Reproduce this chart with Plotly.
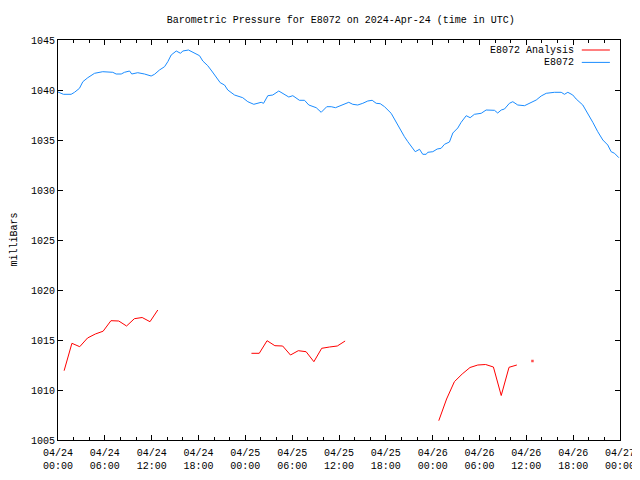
import plotly.graph_objects as go

# ---- data ----
blue_times = [
    "2024-04-24 00:00", "2024-04-24 00:42", "2024-04-24 01:41", "2024-04-24 02:07", "2024-04-24 02:45",
    "2024-04-24 03:11", "2024-04-24 03:49", "2024-04-24 04:41", "2024-04-24 05:44", "2024-04-24 07:01",
    "2024-04-24 07:27", "2024-04-24 08:06", "2024-04-24 08:31", "2024-04-24 09:10", "2024-04-24 09:27",
    "2024-04-24 10:13", "2024-04-24 11:05", "2024-04-24 11:56", "2024-04-24 12:22", "2024-04-24 13:00",
    "2024-04-24 13:39", "2024-04-24 14:04", "2024-04-24 14:30", "2024-04-24 15:09", "2024-04-24 15:42",
    "2024-04-24 15:59", "2024-04-24 16:43", "2024-04-24 17:29", "2024-04-24 18:08", "2024-04-24 18:33",
    "2024-04-24 19:11", "2024-04-24 19:42", "2024-04-24 20:16", "2024-04-24 20:47", "2024-04-24 21:20",
    "2024-04-24 21:45", "2024-04-24 22:37", "2024-04-24 23:15", "2024-04-24 23:40", "2024-04-25 00:19",
    "2024-04-25 01:05", "2024-04-25 02:02", "2024-04-25 02:20", "2024-04-25 02:53", "2024-04-25 03:31",
    "2024-04-25 04:17", "2024-04-25 04:48", "2024-04-25 05:34", "2024-04-25 06:05", "2024-04-25 06:56",
    "2024-04-25 07:35", "2024-04-25 08:08", "2024-04-25 09:05", "2024-04-25 09:43", "2024-04-25 10:26",
    "2024-04-25 11:00", "2024-04-25 11:33", "2024-04-25 12:29", "2024-04-25 13:15", "2024-04-25 13:46",
    "2024-04-25 14:24", "2024-04-25 15:03", "2024-04-25 15:41", "2024-04-25 16:15", "2024-04-25 16:46",
    "2024-04-25 17:17", "2024-04-25 17:50", "2024-04-25 18:41", "2024-04-25 19:06", "2024-04-25 19:32",
    "2024-04-25 19:58", "2024-04-25 20:23", "2024-04-25 20:49", "2024-04-25 21:15", "2024-04-25 21:46",
    "2024-04-25 22:19", "2024-04-25 22:44", "2024-04-25 23:10", "2024-04-25 23:22", "2024-04-26 00:01",
    "2024-04-26 00:35", "2024-04-26 01:05", "2024-04-26 01:31", "2024-04-26 02:09", "2024-04-26 02:35",
    "2024-04-26 03:13", "2024-04-26 03:39", "2024-04-26 04:18", "2024-04-26 04:48", "2024-04-26 05:21",
    "2024-04-26 06:13", "2024-04-26 06:51", "2024-04-26 07:55", "2024-04-26 08:20", "2024-04-26 08:47",
    "2024-04-26 09:12", "2024-04-26 09:50", "2024-04-26 10:16", "2024-04-26 10:54", "2024-04-26 11:46",
    "2024-04-26 12:24", "2024-04-26 13:16", "2024-04-26 13:54", "2024-04-26 14:33", "2024-04-26 15:36",
    "2024-04-26 16:28", "2024-04-26 16:53", "2024-04-26 17:19", "2024-04-26 17:57", "2024-04-26 18:23",
    "2024-04-26 19:14", "2024-04-26 19:52", "2024-04-26 20:31", "2024-04-26 21:09", "2024-04-26 21:48",
    "2024-04-26 22:26", "2024-04-26 22:52", "2024-04-26 23:18", "2024-04-26 23:51",
]
blue_values = [
    1039.8, 1039.57, 1039.57, 1039.77, 1040.17,
    1040.83, 1041.23, 1041.67, 1041.83, 1041.77,
    1041.6, 1041.6, 1041.77, 1041.9, 1041.6,
    1041.73, 1041.6, 1041.4, 1041.57, 1042.0,
    1042.33, 1042.83, 1043.5, 1043.9, 1043.67,
    1043.9, 1044.0, 1043.67, 1043.43, 1042.9,
    1042.43, 1041.9, 1041.33, 1040.73, 1040.5,
    1040.0, 1039.5, 1039.33, 1039.23, 1038.83,
    1038.57, 1038.77, 1038.67, 1039.43, 1039.5,
    1039.9, 1039.67, 1039.3, 1039.43, 1038.97,
    1038.97, 1038.5, 1038.23, 1037.77, 1038.33,
    1038.33, 1038.23, 1038.5, 1038.77, 1038.57,
    1038.5, 1038.67, 1038.9, 1038.97, 1038.67,
    1038.63, 1038.33, 1037.67, 1037.1, 1036.4,
    1035.83, 1035.33, 1034.83, 1034.4, 1033.83,
    1034.07, 1033.57, 1033.57, 1033.77, 1033.83,
    1034.1, 1034.17, 1034.57, 1034.8, 1035.7,
    1036.2, 1036.77, 1037.43, 1037.23, 1037.57,
    1037.67, 1038.0, 1037.97, 1037.7, 1038.0,
    1038.1, 1038.67, 1038.83, 1038.5, 1038.43,
    1038.67, 1039.0, 1039.4, 1039.67, 1039.77,
    1039.77, 1039.57, 1039.77, 1039.5, 1039.1,
    1038.5, 1037.67, 1036.77, 1035.83, 1035.0,
    1034.5, 1033.83, 1033.67, 1033.23,
]

red_times = [
    "2024-04-24 00:47", "2024-04-24 01:47", "2024-04-24 02:47", "2024-04-24 03:47", "2024-04-24 04:47",
    "2024-04-24 05:47", "2024-04-24 06:47", "2024-04-24 07:47", "2024-04-24 08:47", "2024-04-24 09:47",
    "2024-04-24 10:47", "2024-04-24 11:47", "2024-04-24 12:47", "2024-04-24 13:47",
    "2024-04-25 00:47", "2024-04-25 01:47", "2024-04-25 02:47", "2024-04-25 03:47", "2024-04-25 04:47",
    "2024-04-25 05:47", "2024-04-25 06:47", "2024-04-25 07:47", "2024-04-25 08:47", "2024-04-25 09:47",
    "2024-04-25 10:47", "2024-04-25 11:47", "2024-04-25 12:47", "2024-04-25 13:47",
    "2024-04-26 00:47", "2024-04-26 01:47", "2024-04-26 02:47", "2024-04-26 03:47", "2024-04-26 04:47",
    "2024-04-26 05:47", "2024-04-26 06:47", "2024-04-26 07:47", "2024-04-26 08:47", "2024-04-26 09:47",
    "2024-04-26 10:47", "2024-04-26 11:47", "2024-04-26 12:47",
]
red_values = [
    1011.93, 1014.67, 1014.33, 1015.2, 1015.6,
    1015.88, 1016.93, 1016.9, 1016.4, 1017.13,
    1017.25, 1016.83, 1018.0, None,
    1013.67, 1013.67, 1014.93, 1014.43, 1014.4,
    1013.5, 1013.93, 1013.83, 1012.83, 1014.17,
    1014.3, 1014.4, 1014.9, None,
    1006.93, 1009.1, 1010.83, 1011.6, 1012.25,
    1012.5, 1012.55, 1012.3, 1009.45, 1012.27,
    1012.5, None, 1012.9,
]

x_tick_vals = [
    "2024-04-24 00:00", "2024-04-24 06:00", "2024-04-24 12:00", "2024-04-24 18:00",
    "2024-04-25 00:00", "2024-04-25 06:00", "2024-04-25 12:00", "2024-04-25 18:00",
    "2024-04-26 00:00", "2024-04-26 06:00", "2024-04-26 12:00", "2024-04-26 18:00",
    "2024-04-27 00:00",
]
x_tick_text = [
    "04/24<br>00:00", "04/24<br>06:00", "04/24<br>12:00", "04/24<br>18:00",
    "04/25<br>00:00", "04/25<br>06:00", "04/25<br>12:00", "04/25<br>18:00",
    "04/26<br>00:00", "04/26<br>06:00", "04/26<br>12:00", "04/26<br>18:00",
    "04/27<br>00:00",
]
y_tick_vals = [1005, 1010, 1015, 1020, 1025, 1030, 1035, 1040, 1045]

series_names = ["E8072 Analysis", "E8072"]
series_colors = ["#ff0000", "#1a8cff"]
y_title = "milliBars"
chart_title = "Barometric Pressure for E8072 on 2024-Apr-24 (time in UTC)"

# isolated points (no neighbours) get a tiny marker so they remain visible
def iso_sizes(vals):
    out = []
    for i, v in enumerate(vals):
        prev_none = i == 0 or vals[i - 1] is None
        next_none = i == len(vals) - 1 or vals[i + 1] is None
        out.append(2.5 if (v is not None and prev_none and next_none) else 0)
    return out

FONT = "Liberation Mono, DejaVu Sans Mono, monospace"
ML, MR, MT, MB = 50, 28, 32, 48
PLOT_W = 640 - ML - MR

fig = go.Figure()
fig.add_trace(go.Scatter(
    x=red_times, y=red_values, name=series_names[0], mode="lines+markers",
    line=dict(color=series_colors[0], width=1),
    marker=dict(size=iso_sizes(red_values), color=series_colors[0], symbol="square", line=dict(width=0)),
    connectgaps=False, showlegend=False,
))
fig.add_trace(go.Scatter(
    x=blue_times, y=blue_values, name=series_names[1], mode="lines",
    line=dict(color=series_colors[1], width=1), showlegend=False,
))

# legend drawn gnuplot-style: right aligned text with line sample on the right
for i, (nm, col) in enumerate(zip(series_names, series_colors)):
    ypos = 0.975 - i * 0.031
    fig.add_annotation(x=0.921, y=ypos, xref="paper", yref="paper", text=nm,
                       showarrow=False, xanchor="right", yanchor="middle",
                       font=dict(family=FONT, size=10, color="black"))
    fig.add_shape(type="line", xref="paper", yref="paper", x0=0.932, x1=0.982,
                  y0=ypos, y1=ypos, line=dict(color=col, width=1))

# y-axis title placed at the far left like gnuplot
fig.add_annotation(x=-ML / PLOT_W, y=0.5, xref="paper", yref="paper", text=y_title,
                   textangle=-90, showarrow=False, xanchor="left", yanchor="middle",
                   xshift=-2, font=dict(family=FONT, size=10, color="black"))

fig.update_layout(
    width=640, height=480,
    margin=dict(l=ML, r=MR, t=MT, b=MB, autoexpand=False),
    paper_bgcolor="white", plot_bgcolor="white",
    font=dict(family=FONT, size=10, color="black"),
    title=dict(text=chart_title, x=0.52, xanchor="center", y=0.977, yanchor="middle",
               font=dict(family=FONT, size=10, color="black")),
    showlegend=False,
)
fig.update_xaxes(
    range=["2024-04-24 00:00", "2024-04-27 00:00"],
    tickvals=x_tick_vals, ticktext=x_tick_text,
    ticks="inside", ticklen=5, tickcolor="black", tickwidth=1,
    minor=dict(dtick=2 * 3600000, ticks="inside", ticklen=3, tickcolor="black", tickwidth=1,
               tick0="2024-04-24 00:00", showgrid=False),
    showline=True, linecolor="black", linewidth=1, mirror="ticks",
    showgrid=False, zeroline=False, automargin=False, ticklabelstandoff=3,
    tickfont=dict(family=FONT, size=10, color="black"),
)
fig.update_yaxes(
    range=[1005, 1045], tickvals=y_tick_vals,
    ticks="inside", ticklen=5, tickcolor="black", tickwidth=1,
    showline=True, linecolor="black", linewidth=1, mirror="ticks",
    showgrid=False, zeroline=False, automargin=False,
    tickfont=dict(family=FONT, size=10, color="black"),
)

fig.write_html("out.html")
